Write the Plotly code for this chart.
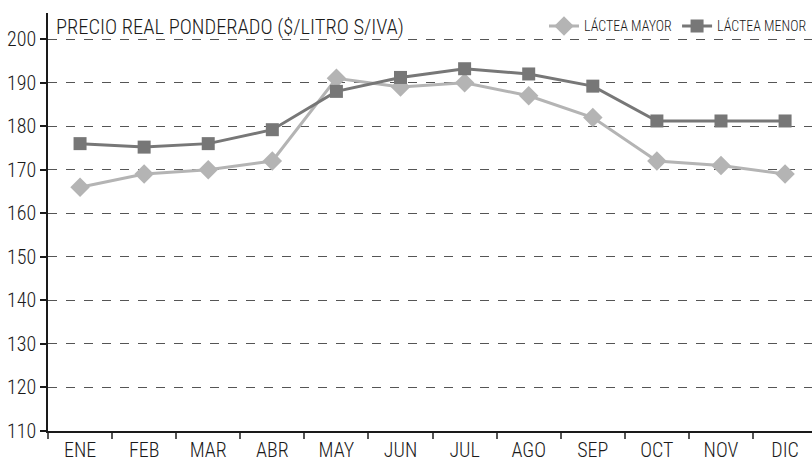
import plotly.graph_objects as go

# Monthly weighted real price (pesos per litre, excluding VAT)
months = ["ENE", "FEB", "MAR", "ABR", "MAY", "JUN", "JUL", "AGO", "SEP", "OCT", "NOV", "DIC"]
lactea_mayor = [166, 169, 170, 172, 191, 189, 190, 187, 182, 172, 171, 169]
lactea_menor = [176, 175.2, 176, 179.2, 188, 191.2, 193.2, 192, 189.2, 181.2, 181.2, 181.2]
y_ticks = [110, 120, 130, 140, 150, 160, 170, 180, 190, 200]

FONT = "Roboto Condensed, DejaVu Sans Condensed, sans-serif"
INK = "#1a1a1a"

fig = go.Figure()
fig.add_trace(go.Scatter(
    x=months, y=lactea_mayor, name="LÁCTEA MAYOR", mode="lines+markers",
    line=dict(color="#b4b4b4", width=3),
    marker=dict(symbol="diamond", size=15, color="#b4b4b4"),
))
fig.add_trace(go.Scatter(
    x=months, y=lactea_menor, name="LÁCTEA MENOR", mode="lines+markers",
    line=dict(color="#777777", width=3),
    marker=dict(symbol="square", size=13, color="#777777"),
))

fig.update_layout(
    width=812, height=461,
    margin=dict(l=48, r=0, t=13, b=30),
    paper_bgcolor="white", plot_bgcolor="white",
    font=dict(family=FONT, color=INK, size=20, weight=300),
    showlegend=True,
    legend=dict(
        orientation="h", x=1.0, xanchor="right", y=0.968, yanchor="middle",
        font=dict(size=14, family=FONT, color=INK, weight=300),
        bgcolor="rgba(0,0,0,0)", itemwidth=30, traceorder="normal",
    ),
    xaxis=dict(
        type="category", range=[-0.5, 11.42],
        showline=True, linecolor=INK, linewidth=1.5,
        ticks="outside", tickson="boundaries", ticklen=6, tickcolor="#555555",
        tickwidth=1.5, showgrid=False, zeroline=False,
        tickfont=dict(size=20, family=FONT, weight=300),
    ),
    yaxis=dict(
        range=[110, 206], tickvals=y_ticks,
        showline=True, linecolor=INK, linewidth=1.5,
        ticks="outside", ticklen=6, tickcolor=INK, tickwidth=1.5,
        showgrid=True, gridcolor="#555555", gridwidth=1.3, griddash="dash",
        zeroline=False, tickfont=dict(size=20, family=FONT, weight=300),
    ),
    annotations=[dict(
        text="PRECIO REAL PONDERADO ($/LITRO S/IVA)",
        xref="paper", yref="paper", x=0.008, y=1.0, xanchor="left", yanchor="top",
        showarrow=False, font=dict(size=20.5, family=FONT, color=INK, weight=300),
    )],
)

fig.write_html("out.html")
